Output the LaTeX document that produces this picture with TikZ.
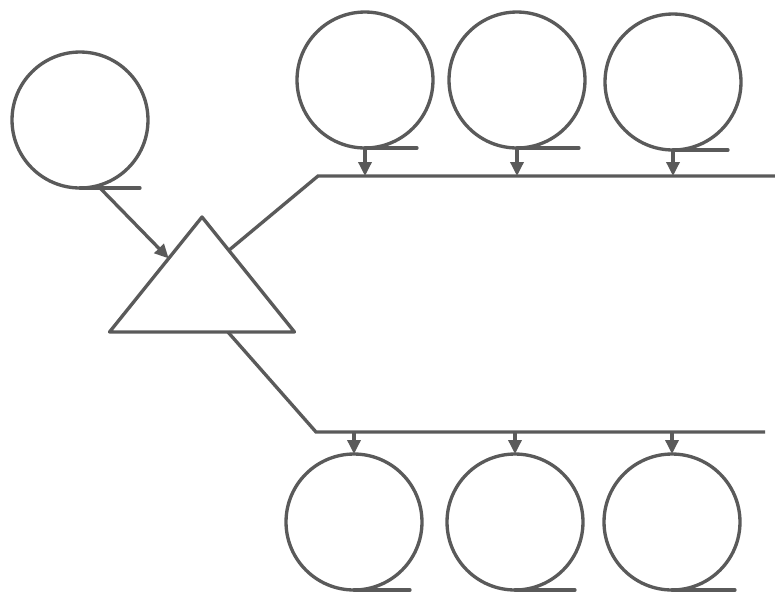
\documentclass[tikz,border=0pt]{standalone}
\usetikzlibrary{arrows.meta,shapes.geometric}
\definecolor{ink}{HTML}{5A5A5A}
\begin{document}
\begin{tikzpicture}[x=0.02cm, y=-0.02cm, >={Triangle[length=0.28cm,width=0.26cm]},
  ln/.style={draw=ink, line width=1.9pt},
  queue/.style={circle, draw=ink, line width=1.9pt, minimum size=2.72cm, inner sep=0pt, outer sep=0pt},
  tail/.style={ln, line cap=round}]
  \useasboundingbox (0,0) rectangle (775,593);
  % source and distributor
  \node[queue] at (80,120) (src) {};
  \node[isosceles triangle, shape border rotate=90, isosceles triangle stretches,
        minimum width=3.7cm, minimum height=2.3cm, inner sep=0pt, outer sep=0pt,
        draw=ink, line width=1.9pt, line join=round, anchor=apex] at (202,217) (dist) {};
  \draw[tail] (src.south) -- ++(60,0);
  \path (dist.apex) -- (dist.left corner) coordinate[pos=0.36] (inpt);
  \path (dist.apex) -- (dist.right corner) coordinate[pos=0.29] (uppt);
  \path (dist.left corner) -- (dist.right corner) coordinate[pos=0.64] (lopt);
  \draw[ln, ->] ([xshift=0.4cm]src.south) -- (inpt);
  % upper bus
  \coordinate (ubend) at (318,176);
  \coordinate (uend) at (775,176);
  \draw[ln] (uppt) -- (ubend) -- (uend);
  \node[queue] at (365,80) (u1) {};
  \node[queue] at (517,80) (u2) {};
  \node[queue] at (673,82) (u3) {};
  \foreach \q/\t in {u1/52, u2/62, u3/55} {
    \draw[tail] (\q.south) -- ++(\t,0);
    \draw[ln, ->] (\q.south) -- (\q.south |- ubend);
  }
  % lower bus
  \coordinate (lbend) at (316,432);
  \coordinate (lend) at (765,432);
  \draw[ln] (lopt) -- (lbend) -- (lend);
  \node[queue] at (354,522) (d1) {};
  \node[queue] at (515,522) (d2) {};
  \node[queue] at (672,522) (d3) {};
  \foreach \q/\t in {d1/56, d2/60, d3/63} {
    \draw[tail] (\q.south) -- ++(\t,0);
    \draw[ln, ->] (\q.north |- lbend) -- (\q.north);
  }
\end{tikzpicture}
\end{document}
